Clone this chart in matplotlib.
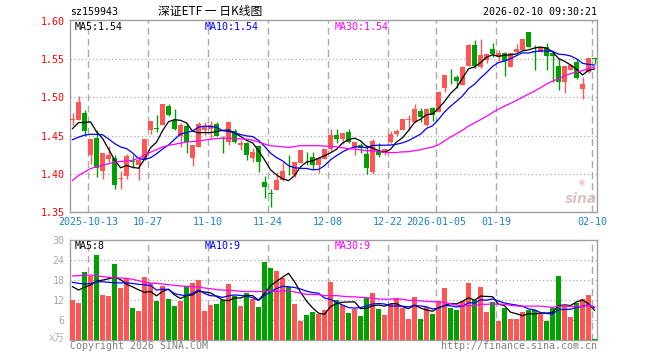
import matplotlib
matplotlib.use("Agg")
import matplotlib.pyplot as plt
import numpy as np
import pandas as pd

# trading days on the chart (weekends, national-day and new-year holidays dropped)
holidays = ["2025-10-01", "2025-10-02", "2025-10-03", "2025-10-06",
            "2025-10-07", "2025-10-08", "2026-01-01", "2026-01-02"]
dates = pd.bdate_range("2025-09-30", "2026-02-10")
dates = dates[~dates.isin(pd.to_datetime(holidays))]

open_ = [1.4705, 1.471, 1.479, 1.424, 1.447, 1.4035, 1.4188, 1.421, 1.393, 1.3965,
         1.416, 1.411, 1.4175, 1.457, 1.4595, 1.4636, 1.4886, 1.471, 1.4487, 1.4628,
         1.420, 1.4354, 1.4575, 1.4584, 1.465, 1.4465, 1.442, 1.4553, 1.4376, 1.4398,
         1.4199, 1.4363, 1.389, 1.3748, 1.3779, 1.3916, 1.4038, 1.3982, 1.4143, 1.4235,
         1.4214, 1.4113, 1.4188, 1.4319, 1.4506, 1.4454, 1.455, 1.4332, 1.4376, 1.4257,
         1.4022, 1.4288, 1.4266, 1.4412, 1.4516, 1.4573, 1.4708, 1.4682, 1.4826, 1.4638,
         1.4857, 1.4813, 1.512, 1.5285, 1.5273, 1.5163, 1.5413, 1.5688, 1.5404, 1.5491,
         1.5631, 1.5535, 1.5587, 1.5404, 1.5596, 1.5622, 1.5854, 1.5605, 1.5601, 1.5657,
         1.5587, 1.5413, 1.5207, 1.536, 1.547, 1.511, 1.5338, 1.5513]
high = [1.480, 1.502, 1.484, 1.446, 1.457, 1.4275, 1.436, 1.424, 1.404, 1.426,
        1.4244, 1.422, 1.446, 1.469, 1.4768, 1.491, 1.492, 1.4843, 1.466, 1.4664,
        1.4376, 1.4673, 1.4677, 1.4695, 1.468, 1.450, 1.4673, 1.4584, 1.4442, 1.442,
        1.4332, 1.4376, 1.3965, 1.380, 1.4025, 1.4156, 1.4244, 1.4156, 1.431, 1.4287,
        1.4287, 1.4201, 1.4319, 1.4581, 1.4581, 1.4529, 1.4581, 1.442, 1.4398, 1.4376,
        1.4451, 1.4407, 1.4319, 1.4553, 1.458, 1.4713, 1.477, 1.4914, 1.4857, 1.4857,
        1.487, 1.5085, 1.5294, 1.5369, 1.5295, 1.541, 1.570, 1.5754, 1.5762, 1.557,
        1.571, 1.5622, 1.560, 1.5587, 1.570, 1.5767, 1.5854, 1.569, 1.5657, 1.571,
        1.5587, 1.550, 1.5413, 1.5426, 1.550, 1.5273, 1.5513, 1.5513]
low = [1.4636, 1.471, 1.449, 1.413, 1.396, 1.393, 1.415, 1.380, 1.380, 1.393,
       1.407, 1.392, 1.4175, 1.4518, 1.455, 1.4636, 1.4755, 1.4572, 1.4354, 1.4274,
       1.4097, 1.4354, 1.451, 1.4465, 1.4487, 1.4275, 1.4376, 1.4398, 1.431, 1.4177,
       1.4155, 1.4022, 1.3681, 1.3558, 1.3779, 1.3905, 1.3982, 1.396, 1.4143, 1.4113,
       1.4056, 1.4004, 1.4188, 1.430, 1.4406, 1.4393, 1.4397, 1.4243, 1.4274, 1.400,
       1.400, 1.4221, 1.4243, 1.4398, 1.450, 1.4573, 1.4573, 1.4682, 1.4682, 1.4625,
       1.4695, 1.4813, 1.507, 1.5176, 1.512, 1.5163, 1.5413, 1.5382, 1.5382, 1.545,
       1.5535, 1.548, 1.528, 1.5404, 1.5596, 1.5622, 1.5657, 1.536, 1.5601, 1.536,
       1.5207, 1.5098, 1.5063, 1.536, 1.5237, 1.4975, 1.5316, 1.544]
close = [1.471, 1.494, 1.456, 1.446, 1.4075, 1.4275, 1.424, 1.3855, 1.3935, 1.423,
         1.4156, 1.4175, 1.445, 1.469, 1.459, 1.491, 1.4767, 1.4585, 1.4642, 1.442,
         1.4376, 1.465, 1.4606, 1.4633, 1.450, 1.445, 1.4673, 1.442, 1.4398, 1.4243,
         1.4288, 1.4155, 1.3823, 1.3738, 1.3912, 1.4035, 1.4030, 1.4156, 1.431, 1.4228,
         1.4113, 1.4201, 1.4319, 1.4506, 1.4454, 1.4529, 1.4419, 1.442, 1.4332, 1.408,
         1.4429, 1.4243, 1.4319, 1.4522, 1.456, 1.4713, 1.4713, 1.4844, 1.4748, 1.4844,
         1.477, 1.5076, 1.5294, 1.5275, 1.522, 1.5404, 1.5688, 1.5413, 1.5557, 1.557,
         1.557, 1.5587, 1.5482, 1.5587, 1.5631, 1.5767, 1.5657, 1.5598, 1.5657, 1.5544,
         1.5548, 1.5207, 1.5413, 1.5426, 1.525, 1.5176, 1.5513, 1.5505]
volume = [12.0, 11.2, 20.4, 19.2, 25.5, 13.5, 13.2, 22.8, 15.6, 18.5,
          9.6, 8.8, 18.9, 17.2, 11.7, 16.2, 12.3, 10.2, 11.8, 16.2,
          17.2, 18.0, 8.8, 10.5, 10.8, 12.0, 16.8, 13.2, 10.2, 14.2,
          12.3, 9.9, 23.4, 21.6, 20.7, 18.6, 15.8, 10.8, 5.8, 7.5,
          8.4, 7.8, 9.0, 17.4, 12.0, 10.5, 8.1, 9.3, 7.2, 12.5,
          14.2, 9.3, 7.5, 10.8, 12.7, 9.7, 6.3, 12.9, 6.3, 9.8,
          7.8, 11.8, 15.7, 9.7, 9.1, 11.8, 17.1, 11.9, 16.0, 8.5,
          11.5, 5.8, 9.7, 6.2, 6.2, 8.5, 9.0, 9.0, 8.0, 5.8,
          9.5, 19.2, 10.2, 7.0, 11.2, 12.4, 13.5, 0.3]

# moving-average values before a full window is available
ma5_head = [1.459, 1.467, 1.467, 1.468]
ma10_head = [1.4445, 1.4478, 1.4505, 1.4516, 1.4516, 1.451, 1.4455, 1.4395, 1.435]
ma30_head = [1.391, 1.3975, 1.402, 1.4065, 1.409, 1.411, 1.413, 1.415, 1.416, 1.4165,
             1.4175, 1.420, 1.4245, 1.428, 1.4315, 1.435, 1.437, 1.4385, 1.440, 1.4415,
             1.442, 1.443, 1.444, 1.445, 1.446, 1.4465, 1.4465, 1.446, 1.4455]
vma5_head = [16.0, 15.0, 15.8, 16.5]
vma10_head = [17.3, 17.0, 16.8, 16.9, 17.4, 17.5, 17.3, 17.2, 17.1]
vma30_head = [19.2, 19.3, 19.4, 19.5, 19.3, 19.0, 18.8, 18.7, 18.6, 18.5,
              18.2, 17.8, 17.3, 17.1, 17.0, 16.8, 16.6, 16.4, 16.2, 16.1,
              16.0, 15.9, 15.6, 15.4, 15.1, 15.0, 14.9, 14.8, 14.6]

tick_dates = ["2025-10-13", "2025-10-27", "2025-11-10", "2025-11-24", "2025-12-08",
              "2025-12-22", "2026-01-05", "2026-01-19", "2026-02-10"]
tick_labels = ["2025-10-13", "10-27", "11-10", "11-24", "12-08",
               "12-22", "2026-01-05", "01-19", "02-10"]

price_legend = ["MA5:1.54", "MA10:1.54", "MA30:1.54"]
vol_legend = ["MA5:8", "MA10:9", "MA30:9"]

RED = "#ff5555"
GREEN = "#00a000"
MA_COLORS = ["black", "#0000ff", "#ff00ff"]
GRID = "#aaaaaa"
MONO = ["DejaVu Sans Mono", "Noto Sans CJK SC"]
FS = 7.2


def moving(values, n, head):
    out = pd.Series(values).rolling(n).mean().to_numpy()
    out[:n - 1] = head
    return out


W, H = 660, 360
fig = plt.figure(figsize=(W / 100, H / 100), dpi=100)


def px(x, y):
    return x / W, 1 - y / H


ax = fig.add_axes([70 / W, (H - 211.7) / H, 527 / W, 191.7 / H])
axv = fig.add_axes([70 / W, 20 / H, 527 / W, 100 / H])

o = np.array(open_)
c = np.array(close)
up = c >= o
colors = np.where(up, RED, GREEN)
idx = np.arange(len(c))
xc = idx + 0.42
ticks = [dates.get_loc(pd.Timestamp(d)) for d in tick_dates]

for a in (ax, axv):
    a.set_xlim(0, 527 / 6)
    for s in a.spines.values():
        s.set_color("#a0a0a0")
        s.set_linewidth(1.0)
    for t in ticks:
        a.axvline(t, color=GRID, lw=1.0, ls=(0, (5, 3)), zorder=0)

# candles
ax.vlines(xc, low, high, colors=colors, lw=1.0, zorder=2)
body = np.maximum(np.abs(c - o), 0.0007)
ax.bar(xc, body, bottom=np.minimum(o, c), width=0.83, color=colors,
       linewidth=0, zorder=3)

for n, head, col in zip((5, 10, 30), (ma5_head, ma10_head, ma30_head), MA_COLORS):
    ax.plot(xc, moving(close, n, head), color=col, lw=0.9, zorder=4)

ax.set_ylim(1.35, 1.6016)
for v in (1.40, 1.45, 1.50, 1.55):
    ax.axhline(v, color=GRID, lw=0.9, ls=(0, (1, 2)), zorder=0)
ax.set_yticks([1.35, 1.40, 1.45, 1.50, 1.55, 1.60])
ax.set_yticklabels(["%.2f" % v for v in [1.35, 1.40, 1.45, 1.50, 1.55, 1.60]],
                   family=MONO, fontsize=FS, color="#ff0000")
ax.set_xticks(ticks)
ax.set_xticklabels(tick_labels, family=MONO, fontsize=FS, color="#1a80d0")
ax.tick_params(length=0, pad=4)

# volume
axv.bar(xc, volume, width=0.83, color=colors, linewidth=0, zorder=3)
for n, head, col in zip((5, 10, 30), (vma5_head, vma10_head, vma30_head), MA_COLORS):
    axv.plot(xc, moving(volume, n, head), color=col, lw=0.9, zorder=4)
axv.set_ylim(0, 30)
for v in (6, 12, 18, 24):
    axv.axhline(v, color=GRID, lw=0.9, ls=(0, (1, 2)), zorder=0)
axv.set_yticks([6, 12, 18, 24, 30])
axv.set_yticklabels(["6", "12", "18", "24", "30"], family=MONO, fontsize=FS,
                    color="#a8a8a8")
axv.set_xticks([])
axv.tick_params(length=0, pad=4)
fig.text(*px(65, 338), "x万", family=MONO, fontsize=FS, color="#b0b0b0",
         ha="right", va="center")

# legends inside panels
for lx, txt, col in zip((75, 205, 335), price_legend, MA_COLORS):
    fig.text(*px(lx, 26.5), txt, family=MONO, fontsize=FS, color=col, va="center")
for lx, txt, col in zip((75, 205, 335), vol_legend, MA_COLORS):
    fig.text(*px(lx, 246), txt, family=MONO, fontsize=FS, color=col, va="center")

# header / footer
fig.text(*px(70, 12), "sz159943", family=MONO, fontsize=FS, color="black", va="center")
fig.text(*px(210, 12), "深证ETF 一 日K线图", family=["Noto Sans CJK SC", "DejaVu Sans"],
         fontsize=8.5, color="black", ha="center", va="center")
fig.text(*px(597, 12), "2026-02-10 09:30:21", family=MONO, fontsize=FS,
         color="black", ha="right", va="center")
fig.text(*px(70, 346), "Copyright 2026 SINA.COM", family=MONO, fontsize=FS,
         color="#808080", va="center")
fig.text(*px(597, 346), "http://finance.sina.com.cn", family=MONO, fontsize=FS,
         color="#808080", ha="right", va="center")

# sina watermark
fig.text(*px(581, 182), "◉", fontsize=6.5, color="#f2c8c8", ha="center", va="center")
fig.text(*px(581, 199), "sina", fontsize=10, style="italic", weight="bold",
         color="#d9c4c4", ha="center", va="center")

fig.savefig("out.png", dpi=100)
